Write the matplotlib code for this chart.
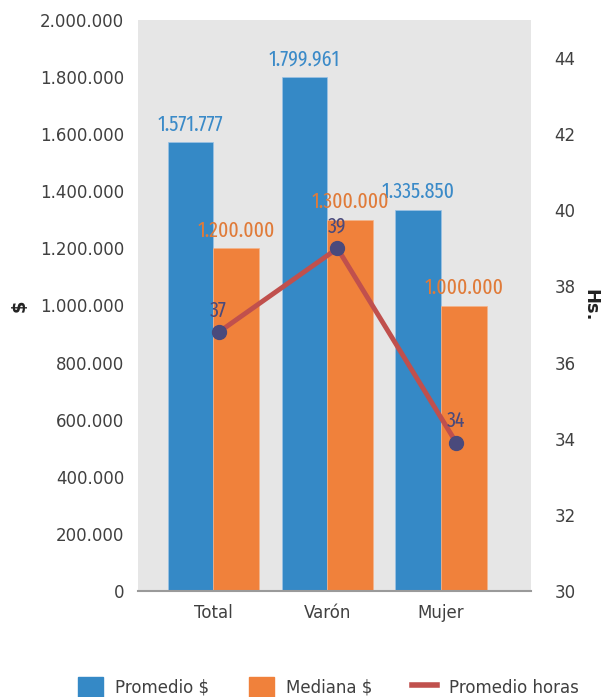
import matplotlib.pyplot as plt
from matplotlib.patches import FancyBboxPatch
from matplotlib.lines import Line2D
import matplotlib.ticker as mticker
from matplotlib import font_manager as fm

# Data
categorias = ["Total", "Varón", "Mujer"]
promedio = [1571777, 1799961, 1335850]
mediana = [1200000, 1300000, 1000000]
horas = [36.8, 39.0, 33.9]

c_blue = "#3589C6"
c_orange = "#F0813B"
c_red = "#C0504D"
c_marker = "#4A4A7C"
c_text = "#404040"


# pick the narrowest regular font we can find for the data labels
def rank(f):
    p = (f.fname + " " + f.name).lower().replace(" ", "").replace("-", "")
    if "italic" in p or "bold" in p or "light" in p or "thin" in p or "medium" in p or "black" in p:
        return None
    if "ultracondensed" in p or "extracondensed" in p:
        return 0
    if "semicondensed" in p:
        return 2
    if "condensed" in p or "narrow" in p:
        return 1
    return None


cands = [(rank(f), f.fname) for f in fm.fontManager.ttflist if rank(f) is not None]
cands.sort()
if cands:
    narrow = fm.FontProperties(fname=cands[0][1])
else:
    narrow = fm.FontProperties(family="DejaVu Sans", stretch="condensed")
label_size = 15.5


def miles(v, pos=None):
    return f"{v:,.0f}".replace(",", ".")


fig = plt.figure(figsize=(6.03, 6.97), dpi=100)
pos = [138 / 603, 106 / 697, 393 / 603, 571 / 697]
ax = fig.add_axes(pos)
ax.set_facecolor("#E6E6E6")

x = list(range(len(categorias)))
w = 0.40
b1 = ax.bar([i - w / 2 for i in x], promedio, w, color=c_blue, edgecolor="#9CC3E6", linewidth=0.5)
b2 = ax.bar([i + w / 2 for i in x], mediana, w, color=c_orange, edgecolor="#F5B38A", linewidth=0.5)

for rect, v in zip(b1, promedio):
    t = ax.annotate(miles(v), (rect.get_x() + rect.get_width() / 2, v), xytext=(0, 5),
                    textcoords="offset points", ha="center", va="bottom", color="#3A8AC8")
    t.set_fontproperties(narrow)
    t.set_fontsize(label_size)
for rect, v in zip(b2, mediana):
    t = ax.annotate(miles(v), (rect.get_x() + rect.get_width() / 2, v), xytext=(0, 5),
                    textcoords="offset points", ha="center", va="bottom", color="#E07B39")
    t.set_fontproperties(narrow)
    t.set_fontsize(label_size)

ax.set_xlim(-0.66, 2.79)
ax.set_ylim(0, 2000000)
ax.set_yticks(range(0, 2000001, 200000))
ax.yaxis.set_major_formatter(mticker.FuncFormatter(miles))
ax.set_xticks(x)
ax.set_xticklabels(categorias)
ax.tick_params(axis="both", length=0, labelsize=12, labelcolor=c_text)
ax.tick_params(axis="y", pad=10)
ax.tick_params(axis="x", pad=9)
for s in ["top", "left", "right"]:
    ax.spines[s].set_visible(False)
ax.spines["bottom"].set_color("#9A9A9A")
ax.spines["bottom"].set_linewidth(1.5)
ax.set_ylabel("$", fontsize=13, fontweight="bold", color="#222222", labelpad=8)

# secondary axis for hours
ax2 = fig.add_axes(pos)
ax2.patch.set_alpha(0)
ax2.plot(x, horas, color=c_red, linewidth=3.5, marker="o", markersize=10,
         markerfacecolor=c_marker, markeredgecolor=c_marker, zorder=3)
for xi, h in zip(x, horas):
    t = ax2.annotate(f"{h:.0f}", (xi, h), xytext=(0, 8), textcoords="offset points",
                     ha="center", va="bottom", color=c_marker)
    t.set_fontproperties(narrow)
    t.set_fontsize(label_size)
ax2.set_xlim(-0.68, 2.63)
ax2.set_ylim(30, 45)
ax2.set_yticks(range(30, 45, 2))
ax2.set_xticks([])
ax2.yaxis.tick_right()
ax2.yaxis.set_label_position("right")
ax2.tick_params(axis="y", length=0, labelsize=12, labelcolor=c_text, pad=17)
for s in ax2.spines.values():
    s.set_visible(False)
ax2.set_ylabel("Hs.", rotation=270, fontsize=13, fontweight="bold", color="#222222", labelpad=17)

handles = [
    FancyBboxPatch((0, 0), 1, 1, boxstyle="round,pad=0.1", color=c_blue),
    FancyBboxPatch((0, 0), 1, 1, boxstyle="round,pad=0.1", color=c_orange),
    Line2D([0], [0], color=c_red, linewidth=4),
]
fig.legend(handles, ["Promedio $", "Mediana $", "Promedio horas"], loc="lower center",
           bbox_to_anchor=(0.545, -0.022), ncol=3, frameon=False, fontsize=12,
           handlelength=1.5, handleheight=1.5, columnspacing=2.4, handletextpad=0.7,
           labelcolor=c_text)

fig.savefig("out.png", dpi=100)
